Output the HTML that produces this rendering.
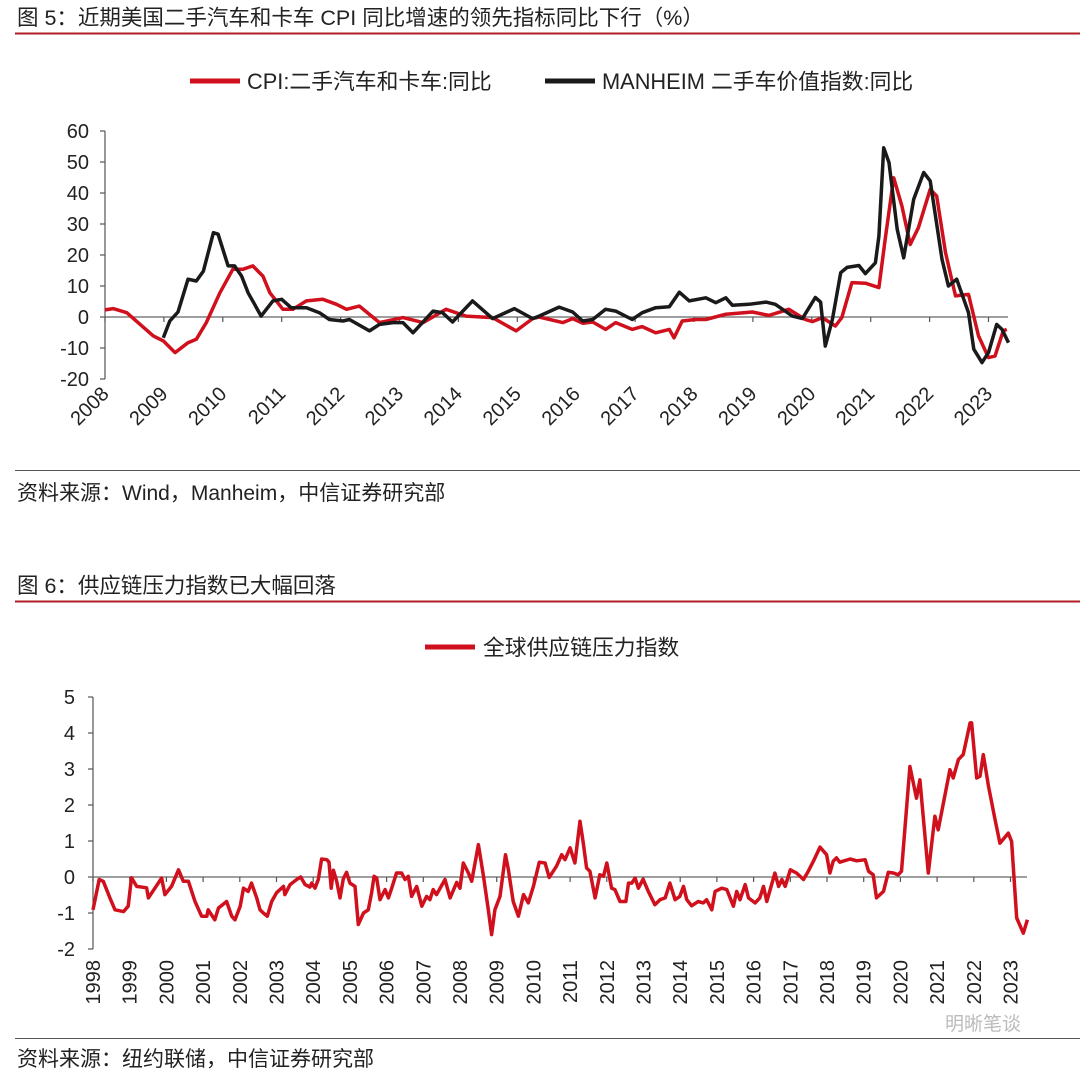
<!DOCTYPE html>
<html><head><meta charset="utf-8">
<style>
body{margin:0;width:1080px;height:1071px;background:#fff;overflow:hidden;font-family:"Liberation Sans","Noto Sans CJK SC",sans-serif;color:#222}
svg text{font-family:"Liberation Sans","Noto Sans CJK SC",sans-serif}
</style></head>
<body>
<svg id="svg" width="1080" height="1071" viewBox="0 0 1080 1071">
<text x="17" y="25" font-size="21.5" fill="#222">图 5：近期美国二手汽车和卡车 CPI 同比增速的领先指标同比下行（%）</text>
<line x1="15" y1="33.5" x2="1080" y2="33.5" stroke="#b01c24" stroke-width="2"/>
<g>
<line x1="190" y1="81" x2="240" y2="81" stroke="#d0101c" stroke-width="5"/>
<text x="247" y="89" font-size="21.8" fill="#222">CPI:二手汽车和卡车:同比</text>
<line x1="545" y1="81" x2="595" y2="81" stroke="#1a1a1a" stroke-width="5"/>
<text x="602" y="89" font-size="21.8" fill="#222">MANHEIM 二手车价值指数:同比</text>
</g>
<g id="c1"></g>
<line x1="15" y1="470.5" x2="1080" y2="470.5" stroke="#555" stroke-width="1"/>
<text x="17" y="500" font-size="21" fill="#222">资料来源：Wind，Manheim，中信证券研究部</text>

<text x="17" y="593" font-size="21.5" fill="#222">图 6：供应链压力指数已大幅回落</text>
<line x1="15" y1="601.5" x2="1080" y2="601.5" stroke="#b01c24" stroke-width="2"/>
<g>
<line x1="425" y1="647" x2="475" y2="647" stroke="#d0101c" stroke-width="5"/>
<text x="483" y="655" font-size="21.8" fill="#222">全球供应链压力指数</text>
</g>
<g id="c2"></g>
<line x1="15" y1="1038.5" x2="1080" y2="1038.5" stroke="#555" stroke-width="1"/>
<text x="17" y="1066" font-size="21" fill="#222">资料来源：纽约联储，中信证券研究部</text>
<text x="945" y="1030" font-size="19" fill="#bbb">明晰笔谈</text>
</svg>
<script>
// ---------- Figure 5 data ----------
const c1Years = [2008,2009,2010,2011,2012,2013,2014,2015,2016,2017,2018,2019,2020,2021,2022,2023];
const c1Ticks = [-20,-10,0,10,20,30,40,50,60];
const cpiDates = [2008.00,2008.14,2008.37,2008.82,2008.99,2009.19,2009.41,2009.55,2009.72,2009.95,2010.17,2010.34,2010.51,2010.68,2010.80,2011.02,2011.19,2011.42,2011.70,2011.93,2012.10,2012.32,2012.66,2013.06,2013.40,2013.79,2014.13,2014.58,2014.98,2015.26,2015.37,2015.77,2015.94,2016.11,2016.28,2016.50,2016.67,2016.95,2017.12,2017.35,2017.58,2017.66,2017.80,2018.03,2018.20,2018.54,2018.99,2019.27,2019.61,2019.89,2020.01,2020.18,2020.40,2020.51,2020.68,2020.91,2021.14,2021.25,2021.39,2021.53,2021.67,2021.81,2022.01,2022.12,2022.27,2022.44,2022.66,2022.83,2023.00,2023.11,2023.25,2023.31];
const cpiValues = [2.3,2.7,1.4,-6.1,-7.7,-11.5,-8.3,-7.2,-1.8,7.8,15.4,15.4,16.5,13.2,7.8,2.5,2.5,5.2,5.7,4.1,2.5,3.5,-1.8,-0.2,-1.8,2.5,0.3,-0.2,-4.5,-0.5,0,-1.8,-0.5,-2.0,-1.6,-4.0,-1.8,-4.0,-3.1,-5.1,-4.0,-6.7,-1.3,-0.8,-0.8,0.9,1.6,0.5,2.5,-0.8,-1.5,-0.2,-2.9,-0.2,11.1,10.9,9.5,25.6,44.9,35.8,23.4,28.8,41.2,39.0,20.8,6.8,7.3,-6.1,-13.1,-12.6,-4.5,-4.0];
const mhDates = [2008.99,2009.10,2009.24,2009.41,2009.55,2009.67,2009.84,2009.92,2010.09,2010.20,2010.32,2010.43,2010.54,2010.65,2010.85,2011.00,2011.16,2011.42,2011.64,2011.81,2012.04,2012.15,2012.49,2012.66,2012.89,2013.06,2013.23,2013.57,2013.73,2013.90,2014.24,2014.58,2014.95,2015.26,2015.37,2015.71,2015.94,2016.11,2016.28,2016.50,2016.67,2016.95,2017.12,2017.35,2017.58,2017.75,2017.92,2018.20,2018.37,2018.54,2018.65,2018.93,2019.22,2019.38,2019.67,2019.84,2020.06,2020.15,2020.23,2020.35,2020.49,2020.60,2020.80,2020.91,2021.08,2021.14,2021.22,2021.31,2021.45,2021.56,2021.73,2021.90,2022.01,2022.21,2022.32,2022.46,2022.66,2022.75,2022.89,2023.00,2023.14,2023.23,2023.34];
const mhValues = [-6.7,-1.3,1.6,12.2,11.6,14.8,27.2,26.7,16.5,16.5,13.2,7.8,4.1,0.3,5.2,5.7,3.0,3.0,1.4,-0.8,-1.3,-0.8,-4.5,-2.4,-1.8,-1.8,-5.1,1.9,1.4,-1.6,5.2,-0.5,2.7,-0.5,0.3,3.2,1.6,-1.3,-0.8,2.5,1.9,-0.8,1.4,3.0,3.3,8.0,5.2,6.2,4.6,6.2,3.8,4.1,4.8,4.1,0.3,-0.5,6.3,4.8,-9.4,-0.8,14.3,16.0,16.6,14.0,17.5,26.1,54.6,49.8,28.3,19.1,38.0,46.6,43.9,18.6,10.0,12.2,1.4,-10.4,-14.7,-11.5,-2.4,-4.0,-8.3];

// ---------- Figure 6 data ----------
const c2Years = [1998,1999,2000,2001,2002,2003,2004,2005,2006,2007,2008,2009,2010,2011,2012,2013,2014,2015,2016,2017,2018,2019,2020,2021,2022,2023];
const c2Ticks = [-2,-1,0,1,2,3,4,5];
const gsDates = [1998.00,1998.17,1998.28,1998.46,1998.60,1998.83,1998.96,1999.05,1999.19,1999.46,1999.51,1999.87,1999.96,2000.14,2000.33,2000.46,2000.60,2000.78,2000.96,2001.10,2001.14,2001.32,2001.42,2001.64,2001.78,2001.87,2002.01,2002.10,2002.23,2002.32,2002.46,2002.55,2002.64,2002.75,2002.87,2003.00,2003.19,2003.23,2003.37,2003.55,2003.66,2003.78,2003.91,2003.96,2004.05,2004.14,2004.23,2004.37,2004.43,2004.49,2004.55,2004.64,2004.73,2004.82,2004.91,2005.00,2005.14,2005.23,2005.37,2005.50,2005.59,2005.66,2005.73,2005.82,2005.96,2006.05,2006.14,2006.27,2006.41,2006.50,2006.59,2006.68,2006.82,2006.96,2007.09,2007.18,2007.27,2007.36,2007.59,2007.73,2007.91,2008.00,2008.09,2008.23,2008.32,2008.50,2008.64,2008.77,2008.86,2008.95,2009.09,2009.24,2009.32,2009.45,2009.59,2009.73,2009.86,2010.00,2010.16,2010.32,2010.43,2010.63,2010.77,2010.86,2011.00,2011.13,2011.27,2011.36,2011.45,2011.54,2011.68,2011.81,2011.91,2012.00,2012.13,2012.22,2012.36,2012.52,2012.59,2012.68,2012.77,2012.86,2012.99,2013.13,2013.31,2013.45,2013.59,2013.72,2013.86,2013.99,2014.09,2014.18,2014.31,2014.49,2014.63,2014.72,2014.86,2014.95,2015.13,2015.27,2015.45,2015.54,2015.63,2015.77,2015.86,2016.04,2016.17,2016.27,2016.36,2016.58,2016.68,2016.77,2016.86,2017.00,2017.17,2017.36,2017.49,2017.63,2017.81,2017.99,2018.08,2018.17,2018.26,2018.35,2018.63,2018.81,2019.04,2019.13,2019.26,2019.35,2019.54,2019.67,2019.81,2019.94,2020.03,2020.26,2020.44,2020.53,2020.76,2020.94,2021.03,2021.35,2021.44,2021.58,2021.71,2021.90,2021.94,2022.08,2022.17,2022.26,2022.40,2022.58,2022.71,2022.94,2023.03,2023.17,2023.35,2023.46];
const gsValues = [-0.91,-0.07,-0.12,-0.58,-0.91,-0.96,-0.81,-0.02,-0.26,-0.3,-0.58,-0.03,-0.49,-0.26,0.2,-0.12,-0.12,-0.68,-1.09,-1.09,-0.91,-1.19,-0.86,-0.68,-1.09,-1.19,-0.81,-0.31,-0.4,-0.17,-0.58,-0.91,-1.0,-1.09,-0.68,-0.44,-0.26,-0.49,-0.21,-0.07,0,-0.21,-0.28,-0.17,-0.31,-0.07,0.5,0.48,0.41,-0.31,0.19,-0.12,-0.58,-0.05,0.13,-0.17,-0.26,-1.32,-1.0,-0.91,-0.44,0.02,-0.03,-0.63,-0.35,-0.58,-0.31,0.11,0.11,-0.07,0.02,-0.54,-0.26,-0.81,-0.54,-0.63,-0.35,-0.49,-0.07,-0.58,-0.15,-0.31,0.39,0.11,-0.12,0.9,0.02,-0.91,-1.6,-0.91,-0.54,0.62,0.2,-0.68,-1.09,-0.49,-0.72,-0.26,0.41,0.39,-0.01,0.3,0.62,0.48,0.81,0.39,1.55,0.94,0.25,0.16,-0.58,0.06,0.02,0.39,-0.31,-0.35,-0.68,-0.68,-0.17,-0.17,-0.03,-0.31,-0.06,-0.4,-0.77,-0.63,-0.58,-0.17,-0.63,-0.54,-0.26,-0.63,-0.8,-0.68,-0.72,-0.63,-0.91,-0.4,-0.31,-0.35,-0.81,-0.4,-0.63,-0.21,-0.58,-0.72,-0.58,-0.26,-0.68,0.11,-0.26,-0.07,-0.26,0.2,0.11,-0.07,0.16,0.44,0.83,0.62,0.11,0.44,0.53,0.41,0.5,0.45,0.48,0.16,0.06,-0.58,-0.4,0.13,0.11,0.06,0.16,3.07,2.19,2.7,0.11,1.69,1.31,2.98,2.75,3.26,3.4,4.28,4.28,2.75,2.8,3.4,2.52,1.59,0.94,1.22,0.99,-1.14,-1.56,-1.19];

const NS='http://www.w3.org/2000/svg';
function mk(tag, attrs, parent){const e=document.createElementNS(NS,tag);for(const k in attrs)e.setAttribute(k,attrs[k]);parent.appendChild(e);return e;}

// ----- Chart 1 -----
(function(){
  const g=document.getElementById('c1');
  const x0=105, yearPx=58.9, axisEnd=1008;
  const X=v=>x0+(v-2008)*yearPx;
  const Y=v=>317-v*3.1;
  const ax=mk('line',{x1:x0,y1:Y(60),x2:x0,y2:Y(-20),stroke:'#555','stroke-width':1.2},g);
  
  
  c1Ticks.forEach(t=>{
    const tk=mk('line',{x1:x0-5,y1:Y(t),x2:x0,y2:Y(t),stroke:'#555','stroke-width':1.2},g);
    
    
    const lb=mk('text',{x:x0-16,y:Y(t)+7,'font-size':20,'text-anchor':'end',fill:'#222'},g);
    lb.textContent=t;
    
    
  });
  const zl=mk('line',{x1:x0,y1:Y(0),x2:axisEnd,y2:Y(0),stroke:'#666','stroke-width':1.2},g);
  
  
  c1Years.forEach(yr=>{
    const tk=mk('line',{x1:X(yr),y1:Y(0),x2:X(yr),y2:Y(0)+5,stroke:'#555','stroke-width':1.2},g);
    
    
    const lb=mk('text',{x:X(yr)+5,y:395,'font-size':20,'text-anchor':'end',fill:'#222',transform:`rotate(-45 ${X(yr)+5} 395)`},g);
    lb.textContent=yr;
    
    
  });
  const cpi=mk('polyline',{points:cpiDates.map((d,i)=>X(d).toFixed(1)+','+Y(cpiValues[i]).toFixed(1)).join(' '),fill:'none',stroke:'#d0101c','stroke-width':3.5,'stroke-linejoin':'round'},g);
  
  
  const mh=mk('polyline',{points:mhDates.map((d,i)=>X(d).toFixed(1)+','+Y(mhValues[i]).toFixed(1)).join(' '),fill:'none',stroke:'#1a1a1a','stroke-width':3.5,'stroke-linejoin':'round'},g);
  
  
})();

// ----- Chart 2 -----
(function(){
  const g=document.getElementById('c2');
  const x0=93, yearPx=36.7, axisEnd=1027;
  const X=v=>x0+(v-1998)*yearPx;
  const Y=v=>877-v*36;
  const ax=mk('line',{x1:x0,y1:Y(5),x2:x0,y2:Y(-2),stroke:'#555','stroke-width':1.2},g);
  
  
  c2Ticks.forEach(t=>{
    const tk=mk('line',{x1:x0-5,y1:Y(t),x2:x0,y2:Y(t),stroke:'#555','stroke-width':1.2},g);
    
    
    const lb=mk('text',{x:x0-18,y:Y(t)+7,'font-size':20,'text-anchor':'end',fill:'#222'},g);
    lb.textContent=t;
    
    
  });
  const zl=mk('line',{x1:x0,y1:Y(0),x2:axisEnd,y2:Y(0),stroke:'#666','stroke-width':1.2},g);
  
  
  c2Years.forEach(yr=>{
    const tk=mk('line',{x1:X(yr),y1:Y(0),x2:X(yr),y2:Y(0)+5,stroke:'#555','stroke-width':1.2},g);
    
    
    const lx=X(yr)+7, ly=960;
    const lb=mk('text',{x:lx,y:ly,'font-size':20,'text-anchor':'end',fill:'#222',transform:`rotate(-90 ${lx} ${ly})`},g);
    lb.textContent=yr;
    
    
  });
  const ln=mk('polyline',{points:gsDates.map((d,i)=>X(d).toFixed(1)+','+Y(gsValues[i]).toFixed(1)).join(' '),fill:'none',stroke:'#d0101c','stroke-width':3.5,'stroke-linejoin':'round'},g);
  
  
})();
</script>
</body></html>
